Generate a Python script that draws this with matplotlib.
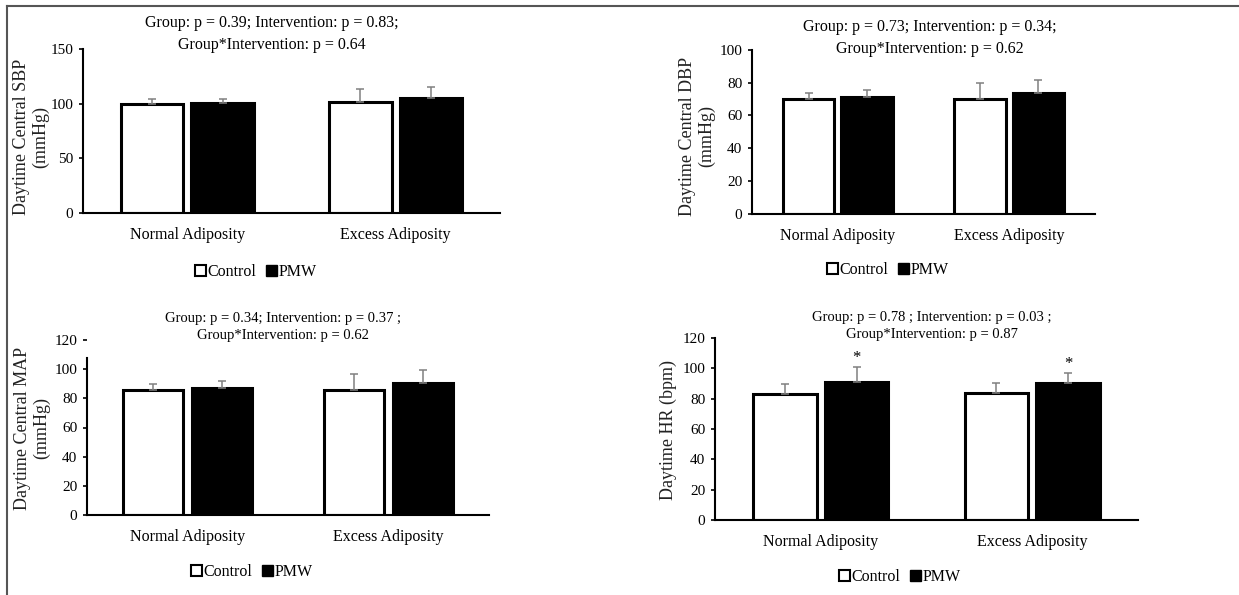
import matplotlib.pyplot as plt
from matplotlib.patches import Patch
from matplotlib.lines import Line2D

plt.rcParams['font.family'] = ['Liberation Serif', 'DejaVu Serif']

groups = ['Normal Adiposity', 'Excess Adiposity']
series = ['Control', 'PMW']

sbp_mean = [100, 100.5, 101.5, 105.5]
sbp_err = [4, 4, 12, 9.5]
dbp_mean = [70.2, 71.3, 70.2, 73.7]
dbp_err = [3.7, 4.3, 9.5, 8]
map_mean = [85.9, 87, 85.9, 90.7]
map_err = [3.9, 4.6, 11.1, 8.8]
hr_mean = [83.3, 91, 83.9, 90.1]
hr_err = [6.1, 9.7, 6.4, 7]

W, H = 1239, 595
fig = plt.figure(figsize=(W / 100, H / 100), dpi=100)

# outer frame (top and left lines)
fig.add_artist(Line2D([6.5 / W, 6.5 / W], [0, 1 - 5.5 / H], color='#555555', lw=1.5))
fig.add_artist(Line2D([6.5 / W, 1], [1 - 5.5 / H, 1 - 5.5 / H], color='#555555', lw=1.5))


def px_axes(x0, x1, y0, ytop):
    return fig.add_axes([x0 / W, 1 - y0 / H, (x1 - x0) / W, (y0 - ytop) / H])


def panel(box, ymax, step, means, errs, ylabel, ylab_xy, title, title_xy, title_fs,
          xlab_y, leg_xy, spine_top=None, stars=False):
    ax = px_axes(*box)
    offs = [-0.17, 0.17]
    for j in range(2):
        xs = [g + offs[j] for g in range(len(groups))]
        vals = [means[g * 2 + j] for g in range(len(groups))]
        ers = [errs[g * 2 + j] for g in range(len(groups))]
        ax.bar(xs, vals, width=0.3, color='white' if j == 0 else 'black',
               edgecolor='black', linewidth=2.2, zorder=2)
        ax.errorbar(xs, vals, yerr=[[0] * len(vals), ers], fmt='none',
                    ecolor='#808080', elinewidth=1.1, capsize=3, capthick=1.1, zorder=3)
        if stars and j == 1:
            for x, v, e in zip(xs, vals, ers):
                ax.text(x, v + e + 6, '*', ha='center', va='center', fontsize=12)
    ax.set_xlim(-0.5, 1.5)
    ax.set_ylim(0, ymax)
    ax.set_yticks(range(0, ymax + 1, step))
    ax.set_xticks([])
    for s in ['top', 'right']:
        ax.spines[s].set_visible(False)
    ax.spines['left'].set_linewidth(1.5)
    ax.spines['bottom'].set_linewidth(1.5)
    if spine_top is not None:
        ax.spines['left'].set_bounds(0, spine_top)
    ax.tick_params(axis='y', direction='out', length=3, width=1.2, labelsize=11, pad=4)
    fig.text(ylab_xy[0] / W, 1 - ylab_xy[1] / H, ylabel, rotation=90, ha='center',
             va='center', fontsize=13, color='#222222', linespacing=1.1)
    fig.text(title_xy[0] / W, 1 - title_xy[1] / H, title, ha='center', va='center',
             fontsize=title_fs, linespacing=1.45)
    ypos = (box[2] - xlab_y) / (box[2] - box[3])
    for g, name in enumerate(groups):
        ax.text(g, ypos, name, transform=ax.get_xaxis_transform(), ha='center',
                va='center', fontsize=11.5)
    handles = [Patch(facecolor='white', edgecolor='black', linewidth=1.5),
               Patch(facecolor='black', edgecolor='black')]
    fig.legend(handles, series, loc='center', bbox_to_anchor=(leg_xy[0] / W, 1 - leg_xy[1] / H),
               ncol=2, frameon=False, fontsize=11.5, handlelength=0.7, handleheight=0.7,
               handletextpad=0.1, columnspacing=0.6, borderpad=0)
    return ax


panel((83, 500, 213, 49), 150, 50, sbp_mean, sbp_err, 'Daytime Central SBP\n(mmHg)', (31, 137),
      'Group: p = 0.39; Intervention: p = 0.83;\nGroup*Intervention: p = 0.64',
      (272, 34), 11.5, 235, (256, 272))
panel((752, 1095, 213.7, 50), 100, 20, dbp_mean, dbp_err, 'Daytime Central DBP\n(mmHg)', (697, 136),
      'Group: p = 0.73; Intervention: p = 0.34;\nGroup*Intervention: p = 0.62',
      (930, 38), 11.5, 236, (888, 270))
panel((87, 489, 515, 340), 120, 20, map_mean, map_err, 'Daytime Central MAP\n(mmHg)', (32, 428),
      'Group: p = 0.34; Intervention: p = 0.37 ;\nGroup*Intervention: p = 0.62',
      (283, 327), 10.5, 537, (252, 572), spine_top=108)
panel((715, 1138, 520, 338), 120, 20, hr_mean, hr_err, 'Daytime HR (bpm)', (668, 430),
      'Group: p = 0.78 ; Intervention: p = 0.03 ;\nGroup*Intervention: p = 0.87',
      (932, 326), 10.5, 542, (900, 577), stars=True)

fig.savefig('out.png', dpi=100)
